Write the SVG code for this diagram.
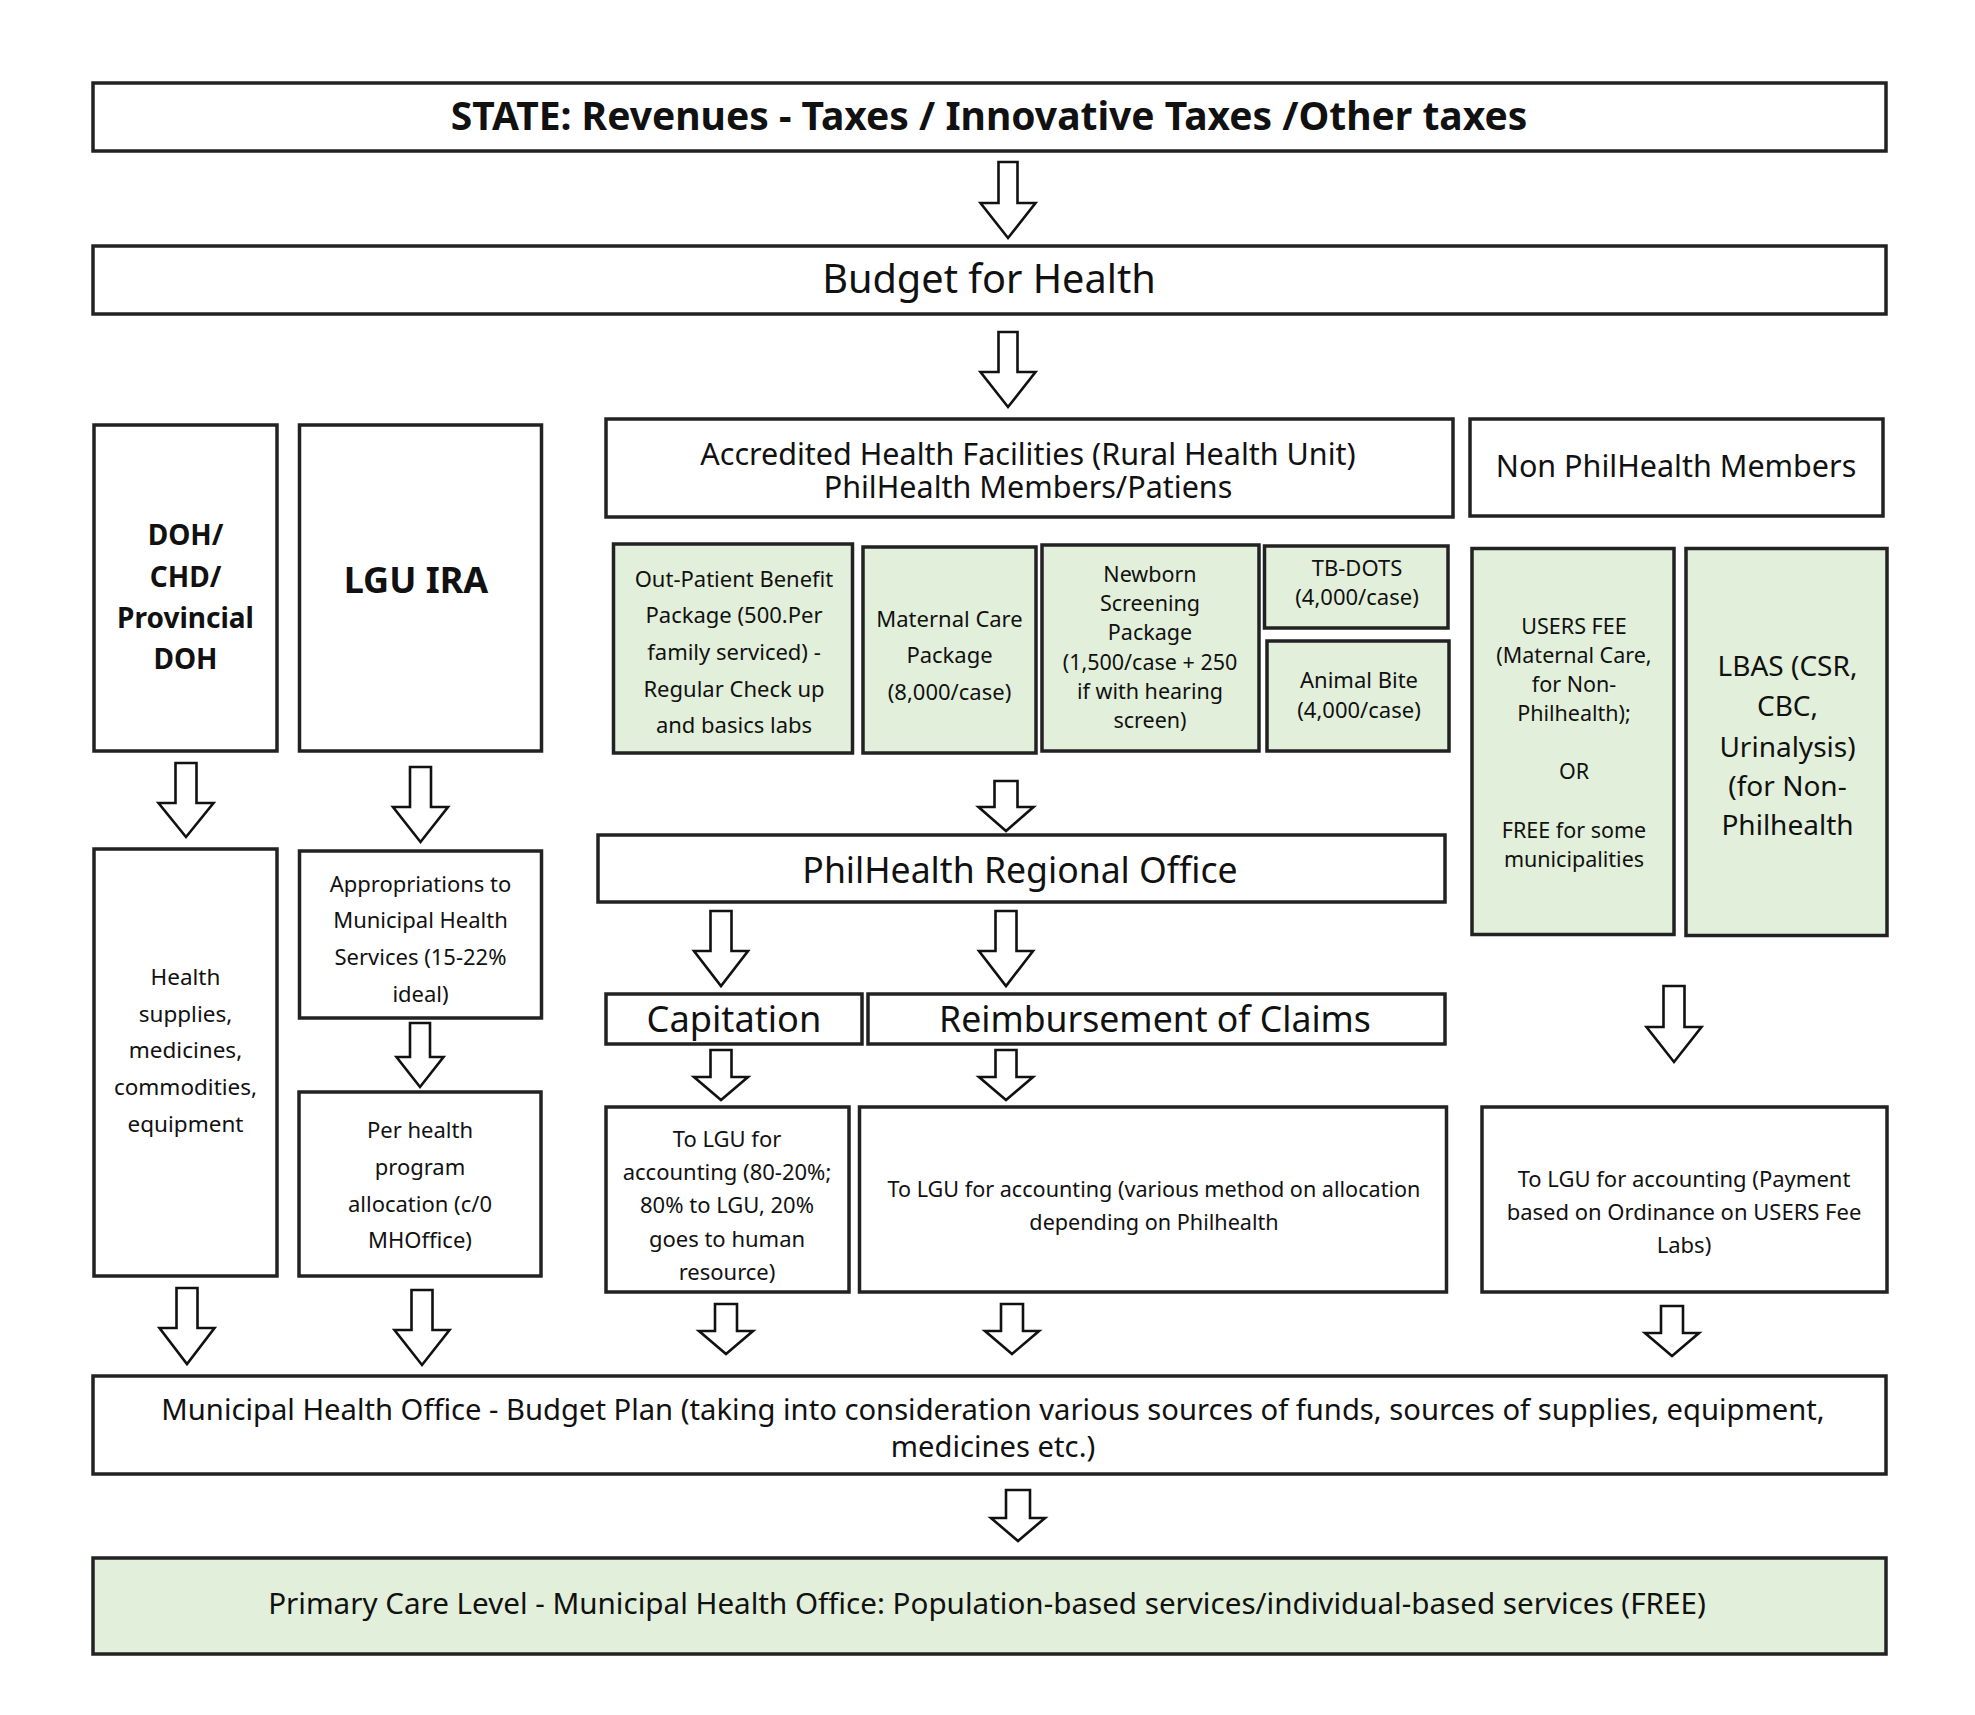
<svg xmlns="http://www.w3.org/2000/svg" width="1975" height="1715" viewBox="0 0 1975 1715">
<style>
  .box{fill:#ffffff;stroke:#222222;stroke-width:3.5}
  .g{fill:#e2efda}
  .ar{fill:#ffffff;stroke:#111111;stroke-width:2.6;stroke-linejoin:miter}
  text{font-family:"Noto Sans","Open Sans","DejaVu Sans",sans-serif;fill:#111111;text-anchor:middle}
  .b{font-weight:bold}
  .s22{font-size:22px}
</style>
<rect width="1975" height="1715" fill="#ffffff"/>
<g id="connectors">
  <path class="ar" d="M998.5,162 H1017.5 V203 H1035.5 L1008,238 L980.5,203 H998.5 Z"/>
  <path class="ar" d="M998.5,332 H1017.5 V372 H1035.5 L1008,407 L980.5,372 H998.5 Z"/>
  <path class="ar" d="M175.5,763 H196.5 V803 H213.5 L186,837 L158.5,803 H175.5 Z"/>
  <path class="ar" d="M410,767 H431 V807 H448 L420.5,842 L393,807 H410 Z"/>
  <path class="ar" d="M410,1023 H430 V1057 H443.5 L420,1087 L396.5,1057 H410 Z"/>
  <path class="ar" d="M176.5,1288 H197.5 V1328 H214.5 L187,1364 L159.5,1328 H176.5 Z"/>
  <path class="ar" d="M411.5,1290 H432.5 V1330 H449.5 L422,1365 L394.5,1330 H411.5 Z"/>
  <path class="ar" d="M994.5,781 H1017.5 V807 H1033.5 L1006,831 L978.5,807 H994.5 Z"/>
  <path class="ar" d="M710.5,911 H731.5 V951 H748 L721,986 L694,951 H710.5 Z"/>
  <path class="ar" d="M995.5,911 H1016.5 V951 H1033 L1006,986 L979,951 H995.5 Z"/>
  <path class="ar" d="M710.5,1050 H731.5 V1077 H748 L721,1100 L694,1077 H710.5 Z"/>
  <path class="ar" d="M995.5,1050 H1016.5 V1077 H1033 L1006,1100 L979,1077 H995.5 Z"/>
  <path class="ar" d="M1663.5,986 H1684.5 V1027 H1701.5 L1674,1062 L1646.5,1027 H1663.5 Z"/>
  <path class="ar" d="M715,1304 H737 V1331 H753 L726,1354 L699,1331 H715 Z"/>
  <path class="ar" d="M1001,1304 H1023 V1331 H1039 L1012,1354 L985,1331 H1001 Z"/>
  <path class="ar" d="M1661,1306 H1683 V1333 H1699 L1672,1356 L1645,1333 H1661 Z"/>
  <path class="ar" d="M1006,1490 H1030 V1518 H1045 L1018,1541 L991,1518 H1006 Z"/>
</g>
<g id="state">
  <rect class="box" x="93" y="83" width="1793" height="68"/>
  <text class="b" x="989" y="130" font-size="39">STATE: Revenues - Taxes / Innovative Taxes /Other taxes</text>
</g>
<g id="budget">
  <rect class="box" x="93" y="246" width="1793" height="68"/>
  <text x="989" y="293" font-size="39.7">Budget for Health</text>
</g>
<g id="doh">
  <rect class="box" x="94" y="425" width="183" height="326"/>
  <text class="b" font-size="28"><tspan x="185.5" y="545">DOH/</tspan><tspan x="185.5" y="587">CHD/</tspan><tspan x="185.5" y="628">Provincial</tspan><tspan x="185.5" y="669">DOH</tspan></text>
</g>
<g id="lgu-ira">
  <rect class="box" x="299.5" y="425" width="242" height="326"/>
  <text class="b" x="416" y="593" font-size="36">LGU IRA</text>
</g>
<g id="accredited">
  <rect class="box" x="606" y="419" width="847" height="98"/>
  <text font-size="30.5"><tspan x="1028" y="465">Accredited Health Facilities (Rural Health Unit)</tspan><tspan x="1028" y="498">PhilHealth Members/Patiens</tspan></text>
</g>
<g id="non-philhealth">
  <rect class="box" x="1470" y="419" width="413" height="97"/>
  <text x="1676" y="477" font-size="30.5">Non PhilHealth Members</text>
</g>
<g id="outpatient">
  <rect class="box g" x="613.5" y="544" width="239" height="209"/>
  <text class="s22"><tspan x="734" y="587">Out-Patient Benefit</tspan><tspan x="734" y="623">Package (500.Per</tspan><tspan x="734" y="660">family serviced) -</tspan><tspan x="734" y="697">Regular Check up</tspan><tspan x="734" y="733">and basics labs</tspan></text>
</g>
<g id="maternal">
  <rect class="box g" x="863" y="547" width="173" height="206"/>
  <text class="s22"><tspan x="949.5" y="627">Maternal Care</tspan><tspan x="949.5" y="663">Package</tspan><tspan x="949.5" y="700">(8,000/case)</tspan></text>
</g>
<g id="newborn">
  <rect class="box g" x="1042" y="545" width="217" height="206"/>
  <text font-size="21.5"><tspan x="1150" y="582">Newborn</tspan><tspan x="1150" y="611">Screening</tspan><tspan x="1150" y="640">Package</tspan><tspan x="1150" y="670">(1,500/case + 250</tspan><tspan x="1150" y="699">if with hearing</tspan><tspan x="1150" y="728">screen)</tspan></text>
</g>
<g id="tbdots">
  <rect class="box g" x="1264.5" y="546" width="183.5" height="82"/>
  <text class="s22"><tspan x="1357" y="576">TB-DOTS</tspan><tspan x="1357" y="605">(4,000/case)</tspan></text>
</g>
<g id="animal-bite">
  <rect class="box g" x="1267" y="641" width="182" height="110"/>
  <text class="s22"><tspan x="1359" y="688">Animal Bite</tspan><tspan x="1359" y="718">(4,000/case)</tspan></text>
</g>
<g id="users-fee">
  <rect class="box g" x="1472" y="548.5" width="202" height="386"/>
  <text font-size="21.5"><tspan x="1574" y="634">USERS FEE</tspan><tspan x="1574" y="663">(Maternal Care,</tspan><tspan x="1574" y="692">for Non-</tspan><tspan x="1574" y="721">Philhealth);</tspan><tspan x="1574" y="779">OR</tspan><tspan x="1574" y="838">FREE for some</tspan><tspan x="1574" y="867">municipalities</tspan></text>
</g>
<g id="lbas">
  <rect class="box g" x="1686" y="548.5" width="201" height="387"/>
  <text font-size="28"><tspan x="1787.5" y="676">LBAS (CSR,</tspan><tspan x="1787.5" y="716">CBC,</tspan><tspan x="1787.5" y="757">Urinalysis)</tspan><tspan x="1787.5" y="796">(for Non-</tspan><tspan x="1787.5" y="835">Philhealth</tspan></text>
</g>
<g id="health-supplies">
  <rect class="box" x="94" y="849" width="183" height="427"/>
  <text font-size="22.5"><tspan x="185.5" y="985">Health</tspan><tspan x="185.5" y="1022">supplies,</tspan><tspan x="185.5" y="1058">medicines,</tspan><tspan x="185.5" y="1095">commodities,</tspan><tspan x="185.5" y="1132">equipment</tspan></text>
</g>
<g id="appropriations">
  <rect class="box" x="299.5" y="851" width="242" height="167"/>
  <text class="s22"><tspan x="420.5" y="892">Appropriations to</tspan><tspan x="420.5" y="928">Municipal Health</tspan><tspan x="420.5" y="965">Services (15-22%</tspan><tspan x="420.5" y="1002">ideal)</tspan></text>
</g>
<g id="per-health">
  <rect class="box" x="299" y="1092" width="242" height="184"/>
  <text class="s22"><tspan x="420" y="1138">Per health</tspan><tspan x="420" y="1175">program</tspan><tspan x="420" y="1212">allocation (c/0</tspan><tspan x="420" y="1248">MHOffice)</tspan></text>
</g>
<g id="regional-office">
  <rect class="box" x="598" y="835" width="847" height="67"/>
  <text x="1020" y="883" font-size="35.6">PhilHealth Regional Office</text>
</g>
<g id="capitation">
  <rect class="box" x="606" y="994" width="256" height="50"/>
  <text x="734" y="1032" font-size="36.2">Capitation</text>
</g>
<g id="reimbursement">
  <rect class="box" x="868" y="994" width="577" height="50"/>
  <text x="1155" y="1032" font-size="35.6">Reimbursement of Claims</text>
</g>
<g id="lgu-capitation">
  <rect class="box" x="606" y="1107" width="243" height="185"/>
  <text class="s22"><tspan x="727" y="1147">To LGU for</tspan><tspan x="727" y="1180">accounting (80-20%;</tspan><tspan x="727" y="1213">80% to LGU, 20%</tspan><tspan x="727" y="1247">goes to human</tspan><tspan x="727" y="1280">resource)</tspan></text>
</g>
<g id="lgu-claims">
  <rect class="box" x="859.5" y="1107" width="587" height="185"/>
  <text font-size="21.6"><tspan x="1154" y="1197">To LGU for accounting (various method on allocation</tspan><tspan x="1154" y="1230">depending on Philhealth</tspan></text>
</g>
<g id="lgu-users-fee">
  <rect class="box" x="1482" y="1107" width="405" height="185"/>
  <text class="s22"><tspan x="1684" y="1187">To LGU for accounting (Payment</tspan><tspan x="1684" y="1220">based on Ordinance on USERS Fee</tspan><tspan x="1684" y="1253">Labs)</tspan></text>
</g>
<g id="municipal-budget">
  <rect class="box" x="93" y="1376" width="1793" height="98"/>
  <text font-size="29.2"><tspan x="993" y="1420">Municipal Health Office - Budget Plan (taking into consideration various sources of funds, sources of supplies, equipment,</tspan><tspan x="993" y="1457">medicines etc.)</tspan></text>
</g>
<g id="primary-care">
  <rect class="box g" x="93" y="1558" width="1793" height="96"/>
  <text x="987" y="1614" font-size="29.6">Primary Care Level - Municipal Health Office: Population-based services/individual-based services (FREE)</text>
</g>
</svg>
